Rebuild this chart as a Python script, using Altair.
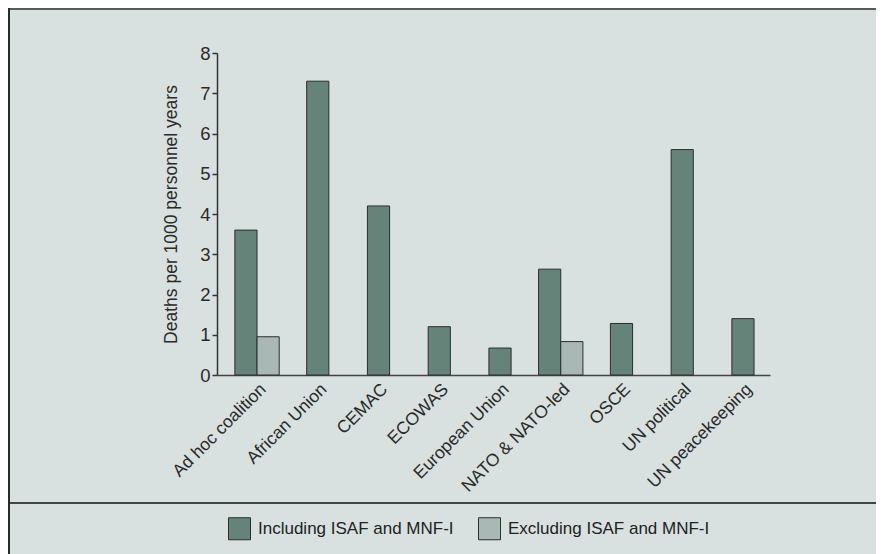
import altair as alt
import pandas as pd

categories = ["Ad hoc coalition", "African Union", "CEMAC", "ECOWAS", "European Union",
              "NATO & NATO-led", "OSCE", "UN political", "UN peacekeeping"]
including = [3.6, 7.3, 4.2, 1.2, 0.67, 2.63, 1.28, 5.6, 1.4]
excluding = [0.95, None, None, None, None, 0.83, None, None, None]
series = ["Including ISAF and MNF-I", "Excluding ISAF and MNF-I"]
colors = ["#66837a", "#a9b8b5"]

pair_rows, single_rows = [], []
for c, inc, exc in zip(categories, including, excluding):
    if exc is None:
        single_rows.append({"cat": c, "series": series[0], "value": inc})
    else:
        pair_rows.append({"cat": c, "series": series[0], "value": inc})
        pair_rows.append({"cat": c, "series": series[1], "value": exc})
pairs = pd.DataFrame(pair_rows)
singles = pd.DataFrame(single_rows)

FONT = "Liberation Sans"
TXT = "#2a2a2a"

xscale = alt.Scale(domain=categories, paddingInner=0.27, paddingOuter=0.187, align=0.786)
yscale = alt.Scale(domain=[0, 8])
cscale = alt.Scale(domain=series, range=colors)

xaxis = alt.Axis(title=None, labelAngle=-45, ticks=False, labelFontSize=17.5, labelColor=TXT,
                 labelFont=FONT, domainColor="#444444", domainWidth=1.5, labelPadding=5,
                 labelLimit=0)
yaxis = alt.Axis(title="Deaths per 1000 personnel years", values=list(range(9)), grid=False,
                 labelFontSize=18.5, labelColor=TXT, labelFont=FONT, tickSize=5,
                 tickColor="#333333", domainColor="#333333", domainWidth=1.5, tickWidth=1.5,
                 labelPadding=2, titleFontSize=17.5, titleFont=FONT, titleColor=TXT,
                 titleFontWeight="normal", titlePadding=19)

legend = alt.Legend(title=None, orient="none", legendX=11, legendY=464, direction="horizontal",
                    symbolType="square", symbolSize=484, symbolStrokeColor="#333333",
                    symbolStrokeWidth=1, labelFontSize=17, labelFont=FONT, labelColor="#222222",
                    labelOffset=7, columnPadding=22, padding=0, symbolOpacity=1, labelLimit=0)

paired = alt.Chart(pairs).mark_bar(stroke="#2d2d2d", strokeWidth=1).encode(
    x=alt.X("cat:N", scale=xscale, axis=xaxis, sort=categories),
    xOffset=alt.XOffset("series:N", scale=alt.Scale(domain=series, paddingInner=0, paddingOuter=0)),
    y=alt.Y("value:Q", scale=yscale, axis=yaxis),
    color=alt.Color("series:N", scale=cscale, legend=legend),
)

single = alt.Chart(singles).mark_bar(stroke="#2d2d2d", strokeWidth=1,
                                     width=alt.RelativeBandSize(0.5)).encode(
    x=alt.X("cat:N", scale=xscale, sort=categories),
    y=alt.Y("value:Q", scale=yscale),
    color=alt.Color("series:N", scale=cscale),
)

one = pd.DataFrame({"k": [0]})
divider = alt.Chart(one).mark_rule(color="#444444", strokeWidth=2).encode(
    x=alt.value(-209), x2=alt.value(700), y=alt.value(450))
top_border = alt.Chart(one).mark_rule(color="#5a5a5a", strokeWidth=2).encode(
    x=alt.value(-209), x2=alt.value(700), y=alt.value(-44))
left_border = alt.Chart(one).mark_rule(color="#2a2a2a", strokeWidth=2).encode(
    x=alt.value(-208), y=alt.value(-45), y2=alt.value(600))

chart = alt.layer(paired, single, divider, top_border, left_border).properties(
    width=553, height=322,
    autosize=alt.AutoSizeParams(type="none"),
    padding={"left": 209, "top": 45, "right": 106, "bottom": 179},
    background="#d8e1e0",
).configure_view(stroke=None)

chart.save("out.html", embed_options={"renderer": "svg", "actions": False})
